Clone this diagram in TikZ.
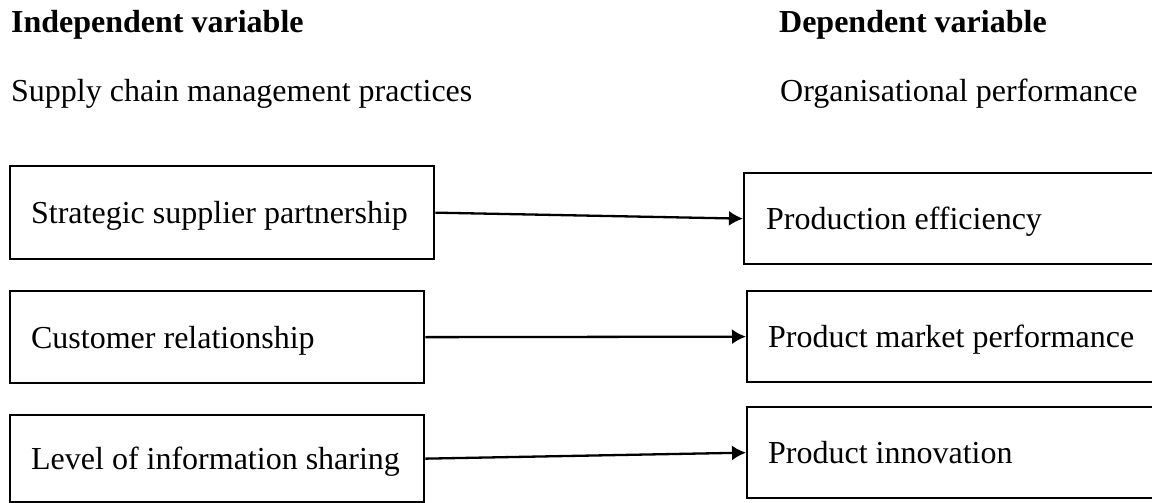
\documentclass[tikz,border=0pt]{standalone}
\usepackage{fontspec}
\setmainfont{Liberation Serif}
\usetikzlibrary{arrows.meta}
\begin{document}
\begin{tikzpicture}[x=1pt,y=-1pt,>={Latex[length=14pt,width=15pt]},line width=2.3pt,
  every node/.style={font=\fontsize{32}{38}\selectfont},
  headtext/.style={anchor=base west,inner sep=0pt},
  varbox/.style={draw,anchor=north west,inner ysep=0pt,text depth=0pt,
    execute at begin node={\hbox to #1\bgroup},execute at end node={\hss\egroup}}]
\useasboundingbox (0,0) rectangle (1152,503);

% Headings
\node[headtext,font=\fontsize{32}{38}\selectfont\bfseries] (ivhead) at (10,33) {Independent variable};
\node[headtext,font=\fontsize{32}{38}\selectfont\bfseries] (dvhead) at (778,33) {Dependent variable};
\node[headtext] (ivname) at (10,102) {Supply chain management practices};
\node[headtext] (dvname) at (779,102) {Organisational performance};

% Independent variable boxes
\node[varbox=382pt,minimum height=93pt,inner xsep=21pt] (iv1) at (9,165) {Strategic supplier partnership};
\node[varbox=372pt,minimum height=92pt,inner xsep=21pt] (iv2) at (9,290) {Customer relationship};
\node[varbox=372pt,minimum height=87pt,inner xsep=21pt] (iv3) at (9,414) {Level of information sharing};

% Dependent variable boxes (right side runs off the page)
\node[varbox=373pt,minimum height=91pt,inner xsep=22pt] (dv1) at (743,172) {Production efficiency};
\node[varbox=372pt,minimum height=91pt,inner xsep=21pt] (dv2) at (746,290) {Product market performance};
\node[varbox=372pt,minimum height=91pt,inner xsep=21pt] (dv3) at (746,406) {Product innovation};

% Arrows
\foreach \i in {1,2,3} {
  \draw[->] (iv\i.east) -- (dv\i.west);
}

\end{tikzpicture}
\end{document}
